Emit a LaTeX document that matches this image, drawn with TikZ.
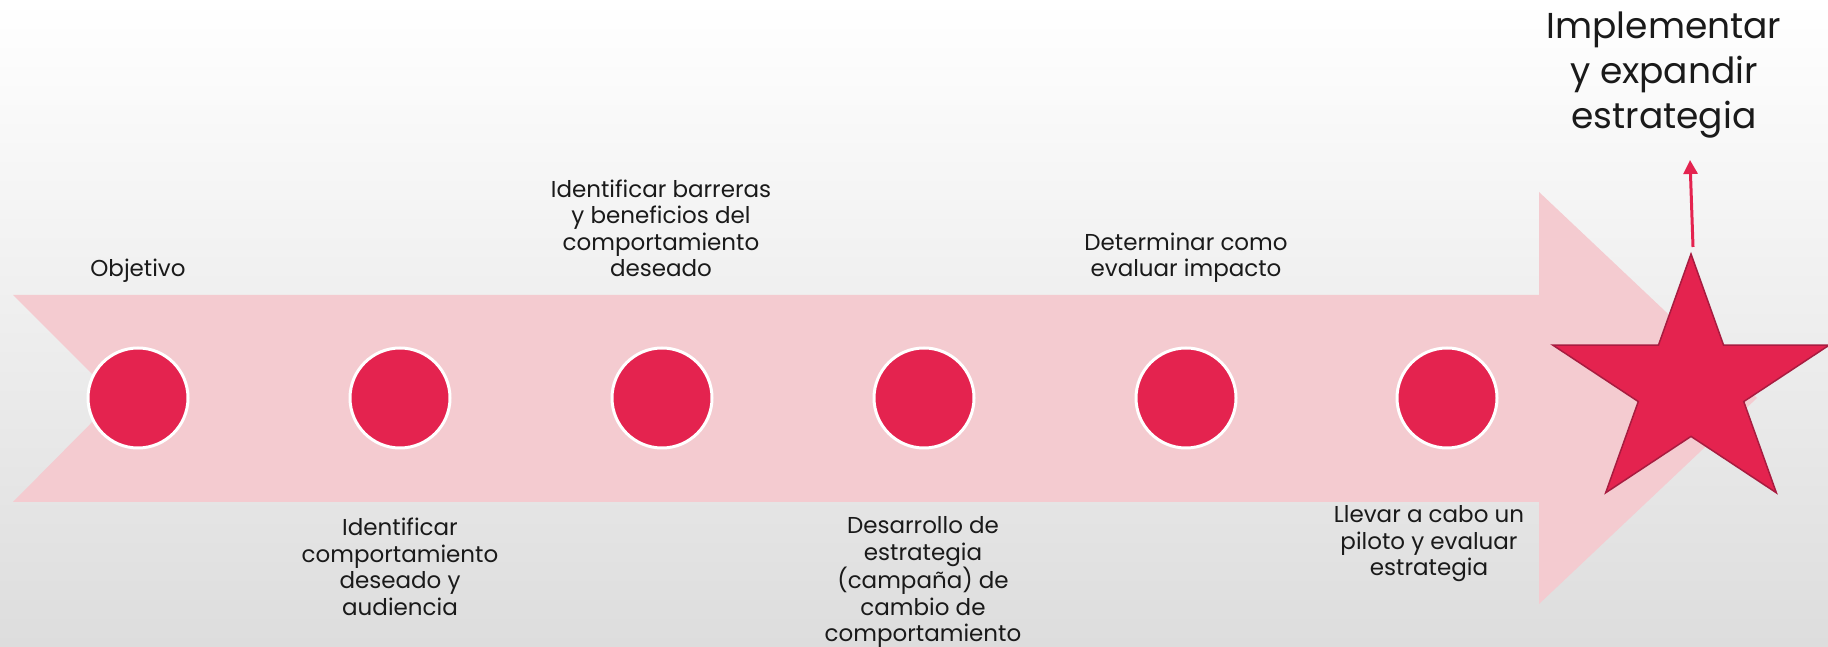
\documentclass[tikz,border=0pt]{standalone}
\usepackage{fontspec}
\setmainfont{Poppins}
\usetikzlibrary{arrows.meta}
\definecolor{bgtop}{HTML}{FFFFFF}
\definecolor{bgbot}{HTML}{DDDDDD}
\definecolor{pinkarrow}{HTML}{F4CBD0}
\definecolor{dotred}{HTML}{E4234F}
\definecolor{starline}{HTML}{A81C40}
\definecolor{txt}{HTML}{1A1A1A}
\begin{document}
\begin{tikzpicture}[x=1pt,y=1pt,
  stepdot/.style={circle, fill=dotred, draw=white, line width=3pt, minimum size=100pt, inner sep=0pt},
  lbl/.style={align=center, text=txt, font=\fontsize{23}{26.5}\selectfont, inner sep=0pt, anchor=base},
  biglbl/.style={align=center, text=txt, font=\fontsize{36}{45}\selectfont, inner sep=0pt, anchor=base},
  starshape/.style={fill=dotred, draw=starline, line width=1.5pt, line join=miter},
  uparrow/.style={draw=dotred, line width=3pt, -{Triangle[length=14pt,width=14pt]}}]
\useasboundingbox (0,0) rectangle (1828,647);
\fill[top color=bgtop, bottom color=bgbot] (0,0) rectangle (1828,647);
% big arrow
\fill[pinkarrow] (13,352) -- (1539,352) -- (1539,455) -- (1757,249) -- (1539,43) -- (1539,145) -- (13,145) -- (116,249) -- cycle;
% dots
\node[stepdot] (d1) at (138,249) {};
\node[stepdot] (d2) at (400,249) {};
\node[stepdot] (d3) at (662,249) {};
\node[stepdot] (d4) at (924,249) {};
\node[stepdot] (d5) at (1186,249) {};
\node[stepdot] (d6) at (1447,249) {};
% star
\draw[starshape, shift={(1691,261)}, xscale=1.1]
  (90:132) -- (54:50.4) -- (18:132) -- (-18:50.4) -- (-54:132) -- (-90:50.4)
  -- (-126:132) -- (-162:50.4) -- (162:132) -- (126:50.4) -- cycle;
\coordinate (startop) at (1693,400);
\coordinate (arrowtip) at (1690,487);
\draw[uparrow] (startop) -- (arrowtip);
% labels (anchor base = baseline of the last line)
\node[biglbl] (impl) at (1664,518.5) {Implementar\\y expandir\\estrategia};
\node[lbl] (t1) at (138,370) {Objetivo};
\node[lbl] (t3) at (661,370) {Identificar barreras\\y beneficios del\\comportamiento\\deseado};
\node[lbl] (t5) at (1186,370) {Determinar como\\evaluar impacto};
\node[lbl] (t2) at (400,31.5) {Identificar\\comportamiento\\deseado y\\audiencia};
\node[lbl] (t4) at (923,5) {Desarrollo de\\estrategia\\(campaña) de\\cambio de\\comportamiento};
\node[lbl] (t6) at (1429,71) {Llevar a cabo un\\piloto y evaluar\\estrategia};
\end{tikzpicture}
\end{document}
